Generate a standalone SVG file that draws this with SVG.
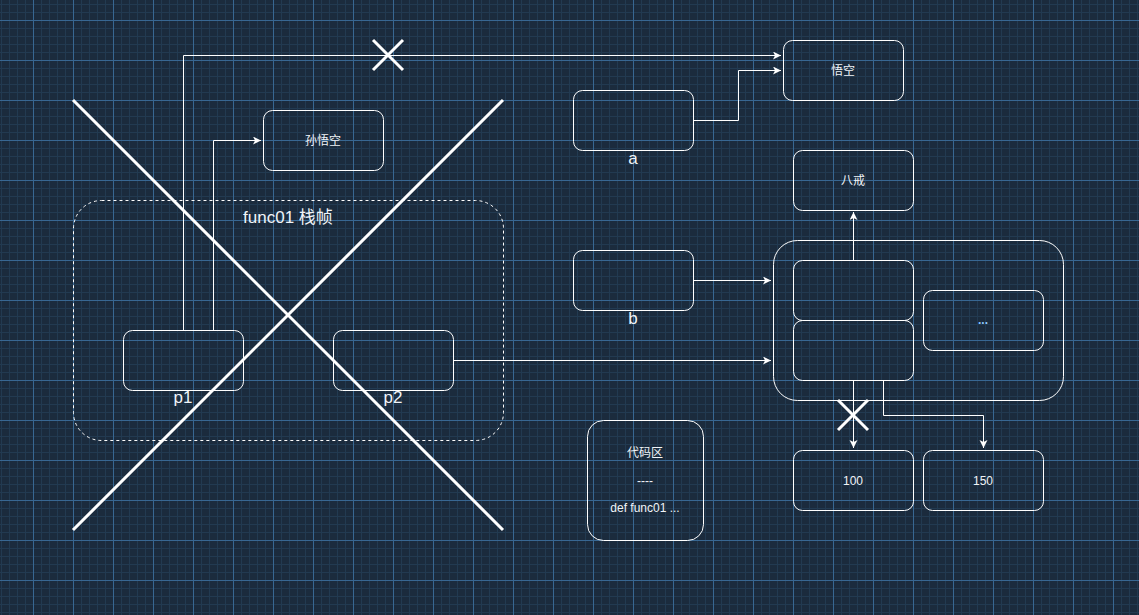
<svg xmlns="http://www.w3.org/2000/svg" width="1139" height="615" viewBox="0 0 1139 615">
<style>
.box{fill:none;stroke:#ffffff;stroke-width:1}
.dash{fill:none;stroke:#ffffff;stroke-width:1;stroke-dasharray:3 3}
.edge{fill:none;stroke:#ffffff;stroke-width:1}
.cross{stroke:#ffffff;stroke-width:3;fill:none}
.t{font-family:"Liberation Sans","Noto Sans CJK SC",sans-serif;fill:#f0f4f8;text-anchor:middle}
.s12{font-size:12px}
.s16{font-size:17px}
</style>
<defs>
<pattern id="grid" x="33" y="20" width="40" height="40" patternUnits="userSpaceOnUse">
<rect width="40" height="40" fill="#1b2b3d"/>
<path d="M8.5 0V40M16.5 0V40M24.5 0V40M32.5 0V40M0 8.5H40M0 16.5H40M0 24.5H40M0 32.5H40" stroke="#223a51" stroke-width="1"/>
<path d="M0.5 0V40M0 0.5H40" stroke="#386792" stroke-width="1"/>
</pattern>
<marker id="arr" markerWidth="10" markerHeight="10" refX="8" refY="4" orient="auto" markerUnits="userSpaceOnUse">
<path d="M0 0L8 4L0 8L2 4Z" fill="#ffffff"/>
</marker>
</defs>
<rect width="1139" height="615" fill="url(#grid)"/>

<g id="connectors">
<path class="edge" d="M183.5 330V55.5H781" marker-end="url(#arr)"/>
<path class="edge" d="M213.5 330V140.5H261" marker-end="url(#arr)"/>
<path class="edge" d="M693 120.5H738.5V70.5H781" marker-end="url(#arr)"/>
<path class="edge" d="M693 280.5H771" marker-end="url(#arr)"/>
<path class="edge" d="M453 360.5H771" marker-end="url(#arr)"/>
<path class="edge" d="M853.5 260V212" marker-end="url(#arr)"/>
<path class="edge" d="M853.5 380V448" marker-end="url(#arr)"/>
<path class="edge" d="M883.5 380V415.5H983.5V448" marker-end="url(#arr)"/>
</g>

<g id="stackframe">
<rect class="dash" x="73.5" y="200.5" width="430" height="240" rx="28"/>
<text class="t s16" x="288" y="223">func01 栈帧</text>
</g>
<g id="p1">
<rect class="box" x="123.5" y="330.5" width="120" height="60" rx="9"/>
<text class="t s16" x="183" y="403">p1</text>
</g>
<g id="p2">
<rect class="box" x="333.5" y="330.5" width="120" height="60" rx="9"/>
<text class="t s16" x="393" y="403">p2</text>
</g>
<g id="sunwukong">
<rect class="box" x="263.5" y="110.5" width="120" height="60" rx="9"/>
<text class="t s12" x="323" y="145">孙悟空</text>
</g>
<g id="wukong">
<rect class="box" x="783.5" y="40.5" width="120" height="60" rx="9"/>
<text class="t s12" x="843" y="75">悟空</text>
</g>
<g id="a">
<rect class="box" x="573.5" y="90.5" width="120" height="60" rx="9"/>
<text class="t s16" x="633" y="164">a</text>
</g>
<g id="bajie">
<rect class="box" x="793.5" y="150.5" width="120" height="60" rx="9"/>
<text class="t s12" x="853" y="185">八戒</text>
</g>
<g id="b">
<rect class="box" x="573.5" y="250.5" width="120" height="60" rx="9"/>
<text class="t s16" x="633" y="324">b</text>
</g>
<g id="list">
<rect class="box" x="773.5" y="240.5" width="290" height="160" rx="24"/>
</g>
<g id="item0">
<rect class="box" x="793.5" y="260.5" width="120" height="60" rx="9"/>
</g>
<g id="item1">
<rect class="box" x="793.5" y="320.5" width="120" height="60" rx="9"/>
</g>
<g id="more">
<rect class="box" x="923.5" y="290.5" width="120" height="60" rx="9"/>
<text class="t s12" x="983" y="324" style="fill:#8cc8ff;font-weight:bold">...</text>
</g>
<g id="n100">
<rect class="box" x="793.5" y="450.5" width="120" height="60" rx="9"/>
<text class="t s12" x="853" y="485">100</text>
</g>
<g id="n150">
<rect class="box" x="923.5" y="450.5" width="120" height="60" rx="9"/>
<text class="t s12" x="983" y="485">150</text>
</g>
<g id="code">
<rect class="box" x="587.5" y="420.5" width="116" height="120" rx="16"/>
<text class="t s12" x="645" y="457">代码区</text>
<text class="t s12" x="645" y="485">----</text>
<text class="t s12" x="645" y="512">def func01 ...</text>
</g>
<g id="crosses">
<path class="cross" d="M73 100L503 530M503 100L73 530"/>
<path class="cross" d="M373 40L403 70M403 40L373 70"/>
<path class="cross" d="M838 400L868 430M868 400L838 430"/>
</g>
</svg>
